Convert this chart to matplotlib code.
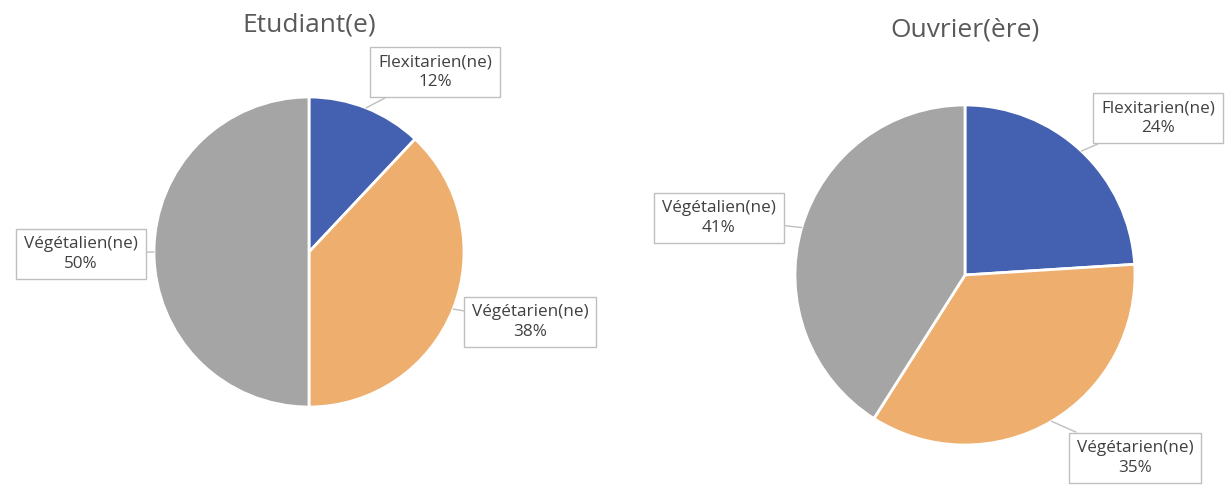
import numpy as np
import matplotlib.pyplot as plt

categories = ['Flexitarien(ne)', 'Végétarien(ne)', 'Végétalien(ne)']
etudiant = [12, 38, 50]
ouvrier = [24, 35, 41]
titles = ['Etudiant(e)', 'Ouvrier(ère)']
colors = ['#4361B0', '#EDAE6E', '#A5A5A5']

plt.rcParams['font.family'] = ['Open Sans', 'DejaVu Sans']

W, H = 1230, 486
fig = plt.figure(figsize=(W / 100, H / 100), dpi=100)


def pie_axes(cx, cy, r):
    # cx, cy, r in pixels (y from top)
    return fig.add_axes([(cx - r) / W, (H - cy - r) / H, 2 * r / W, 2 * r / H])


# label box centers (pixels from top-left) for each pie
label_pos = [
    [(435, 72), (530, 322), (81, 254)],
    [(1158, 118), (1135, 458), (719, 218)],
]
title_pos = [(309, 25), (965, 30)]
pie_geom = [(309, 252, 155), (965, 275, 170)]

for i, vals in enumerate([etudiant, ouvrier]):
    cx, cy, r = pie_geom[i]
    ax = pie_axes(cx, cy, r)
    wedges, _ = ax.pie(vals, colors=colors, startangle=90, counterclock=False,
                       radius=1, wedgeprops=dict(edgecolor='white', linewidth=2))
    ax.set_xlim(-1, 1)
    ax.set_ylim(-1, 1)
    ax.set_aspect('auto')
    ax.axis('off')

    for w, cat, v, (lx, ly) in zip(wedges, categories, vals, label_pos[i]):
        ang = np.deg2rad((w.theta1 + w.theta2) / 2)
        xy = (np.cos(ang), np.sin(ang))
        ax.annotate(f'{cat}\n{v}%', xy=xy, xycoords='data',
                    xytext=(lx, H - ly), textcoords='figure pixels',
                    ha='center', va='center', fontsize=12.3, color='#404040',
                    linespacing=1.3, annotation_clip=False,
                    bbox=dict(boxstyle='square,pad=0.45', fc='white', ec='#BFBFBF', lw=1),
                    arrowprops=dict(arrowstyle='-', color='#BFBFBF', lw=1,
                                    shrinkA=0, shrinkB=0))

    tx, ty = title_pos[i]
    fig.text(tx / W, 1 - ty / H, titles[i], ha='center', va='center',
             fontsize=19, color='#595959')

fig.savefig('out.png', dpi=100)
